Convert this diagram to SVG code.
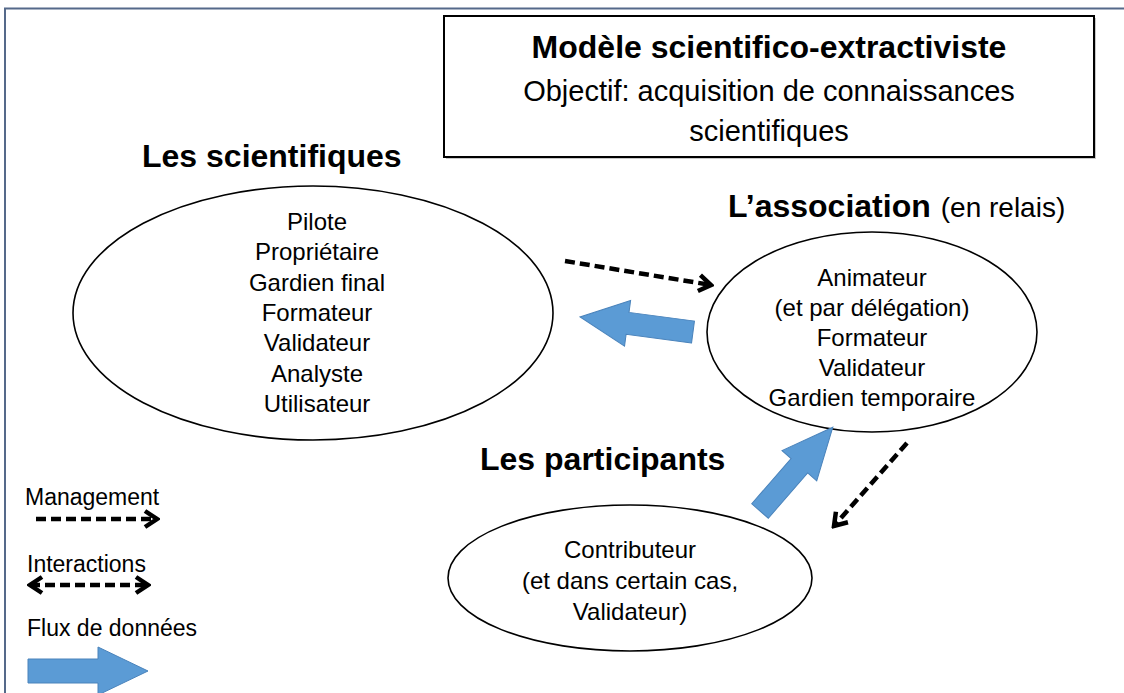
<svg xmlns="http://www.w3.org/2000/svg" width="1124" height="693" viewBox="0 0 1124 693">
<defs>
<style>
text{font-family:"Liberation Sans",Arial,sans-serif;fill:#000}
.b{font-weight:bold;font-size:32px}
.t{font-size:24px;text-anchor:middle}
.lg{font-size:23px}
.ell{fill:#fff;stroke:#000;stroke-width:1.6}
.dash{fill:none;stroke:#000;stroke-width:4.5;stroke-dasharray:10 5}
.blue{fill:#5b9bd5;stroke:#4a83bb;stroke-width:1}
</style>
<marker id="chev" markerUnits="userSpaceOnUse" viewBox="0 0 18 22" refX="15" refY="11" markerWidth="18" markerHeight="22" orient="auto-start-reverse">
<path d="M3,3 L15,11 L3,19" fill="none" stroke="#000" stroke-width="4.5"/>
</marker>
</defs>
<rect width="1124" height="693" fill="#fff"/>
<path d="M5,693 V8.5 H1124" fill="none" stroke="#55698a" stroke-width="2"/>

<g id="title">
<rect x="446" y="18" width="650" height="141" fill="#c8c8c8"/>
<rect x="444" y="16" width="650" height="141" fill="#fff" stroke="#000" stroke-width="2"/>
<text x="769" y="58" class="b" text-anchor="middle">Modèle scientifico-extractiviste</text>
<text x="769" y="101" font-size="29" text-anchor="middle">Objectif: acquisition de connaissances</text>
<text x="769" y="141" font-size="29" text-anchor="middle">scientifiques</text>
</g>

<g id="scientifiques">
<text x="142" y="167" class="b">Les scientifiques</text>
<ellipse cx="313" cy="313" rx="240" ry="127" class="ell"/>
<text class="t" x="317" y="230">Pilote</text>
<text class="t" x="317" y="260">Propriétaire</text>
<text class="t" x="317" y="291">Gardien final</text>
<text class="t" x="317" y="321">Formateur</text>
<text class="t" x="317" y="351">Validateur</text>
<text class="t" x="317" y="382">Analyste</text>
<text class="t" x="317" y="412">Utilisateur</text>
</g>

<g id="association">
<text x="728" y="217" class="b">L’association<tspan font-weight="normal" font-size="28" dx="10">(en relais)</tspan></text>
<ellipse cx="872" cy="332" rx="165" ry="100" class="ell"/>
<text class="t" x="872" y="286">Animateur</text>
<text class="t" x="872" y="316">(et par délégation)</text>
<text class="t" x="872" y="346">Formateur</text>
<text class="t" x="872" y="376">Validateur</text>
<text class="t" x="872" y="406">Gardien temporaire</text>
</g>

<g id="participants">
<text x="480" y="470" class="b">Les participants</text>
<ellipse cx="630" cy="578" rx="182" ry="73" class="ell"/>
<text class="t" x="630" y="558">Contributeur</text>
<text class="t" x="630" y="589">(et dans certain cas,</text>
<text class="t" x="630" y="620">Validateur)</text>
</g>

<g id="connectors">
<line x1="565" y1="261" x2="711" y2="285" class="dash" marker-end="url(#chev)"/>
<line x1="907" y1="443" x2="834" y2="526" class="dash" marker-end="url(#chev)"/>
<path class="blue" transform="translate(693,332) rotate(187.56)" d="M0,-11 L66,-11 L66,-23 L114,0 L66,23 L66,11 L0,11 Z"/>
<path class="blue" transform="translate(760,511) rotate(-49)" d="M0,-11 L60,-11 L60,-23 L111,0 L60,23 L60,11 L0,11 Z"/>
</g>

<g id="legend">
<text x="25" y="505" class="lg">Management</text>
<line x1="36" y1="519" x2="157" y2="519" class="dash" marker-end="url(#chev)"/>
<text x="27" y="572" class="lg">Interactions</text>
<line x1="30" y1="585" x2="148" y2="585" class="dash" marker-start="url(#chev)" marker-end="url(#chev)"/>
<text x="27" y="636" class="lg">Flux de données</text>
<path class="blue" d="M28,659 H98 V647 L148,671 L98,695 V683 H28 Z"/>
</g>
</svg>
